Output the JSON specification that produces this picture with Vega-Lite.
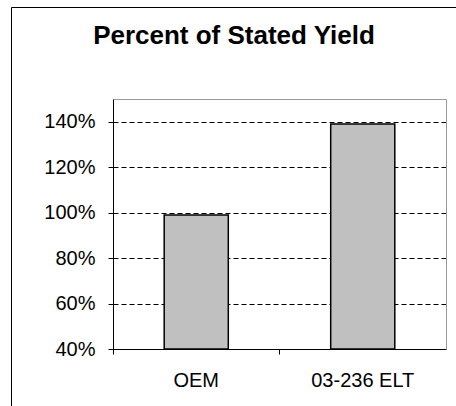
{
  "$schema": "https://vega.github.io/schema/vega-lite/v6.json",
  "width": 446,
  "height": 400,
  "autosize": "none",
  "padding": {"left": 11, "top": 7, "right": -1, "bottom": -1},
  "background": "white",
  "title": {
    "text": "Percent of Stated Yield",
    "font": "Liberation Sans",
    "fontSize": 26,
    "fontWeight": "bold",
    "color": "black",
    "anchor": "middle",
    "frame": "group",
    "offset": -63,
    "baseline": "alphabetic"
  },
  "config": {
    "view": {"stroke": "black", "strokeWidth": 1},
    "font": "Liberation Sans"
  },
  "data": {
    "values": [
      {"category": "OEM", "percent": 0.99},
      {"category": "03-236 ELT", "percent": 1.39}
    ]
  },
  "layer": [
    {
      "mark": {"type": "bar", "fill": "#C0C0C0", "stroke": "black", "strokeWidth": 1.5, "width": {"band": 0.385}},
      "encoding": {
        "x": {
          "field": "category", "type": "nominal", "sort": null,
          "scale": {"range": [102, 435], "paddingInner": 0, "paddingOuter": 0},
          "axis": {"orient": "bottom", "offset": -58, "title": null, "labelAngle": 0, "labelFontSize": 20, "labelColor": "black", "labelPadding": 16, "domainColor": "black", "tickColor": "black", "tickSize": 5, "bandPosition": 0, "grid": false}
        },
        "y": {
          "field": "percent", "type": "quantitative",
          "scale": {"domain": [0.4, 1.5], "range": [342, 92], "zero": false, "nice": false},
          "axis": {"orient": "left", "offset": -102, "title": null, "values": [0.4, 0.6, 0.8, 1.0, 1.2, 1.4], "format": ".0%", "labelFontSize": 20, "labelColor": "black", "domainColor": "black", "tickColor": "black", "tickSize": 5, "labelPadding": 13, "grid": true, "gridColor": "black", "gridDash": [5, 3], "gridWidth": 1, "gridOpacity": 1}
        },
        "y2": {"datum": 0.4}
      }
    },
    {
      "mark": {"type": "bar", "opacity": 0},
      "encoding": {
        "x": {
          "field": "category", "type": "nominal", "sort": null,
          "axis": {"orient": "top", "offset": -92, "title": null, "labels": false, "ticks": false, "grid": false, "domainColor": "#999999"}
        },
        "y": {
          "field": "percent", "type": "quantitative",
          "axis": {"orient": "right", "offset": -11, "title": null, "labels": false, "ticks": false, "grid": false, "domainColor": "#999999"}
        },
        "y2": {"datum": 0.4}
      }
    }
  ],
  "resolve": {"axis": {"x": "independent", "y": "independent"}}
}
